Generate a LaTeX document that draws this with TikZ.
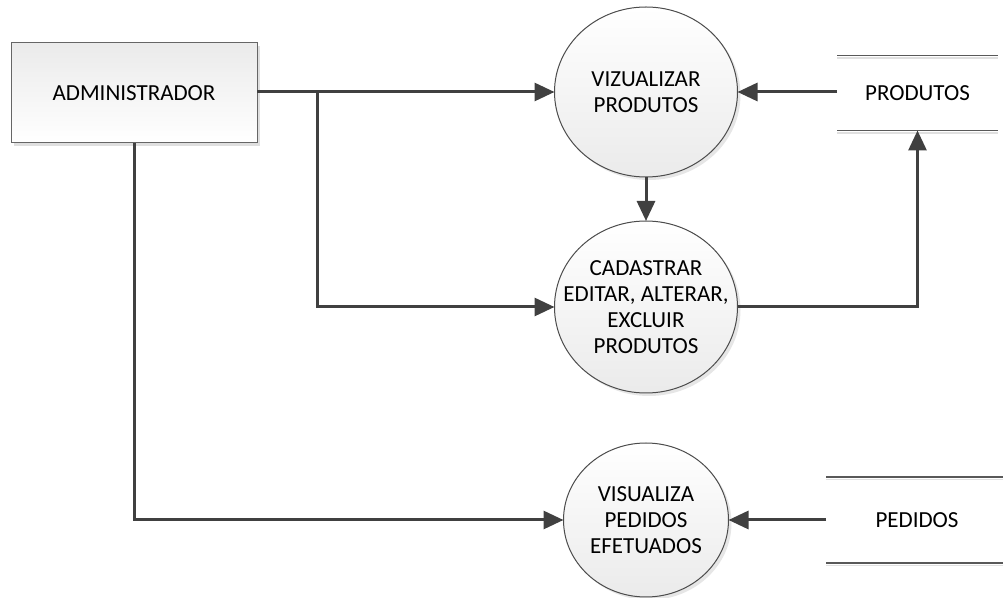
\documentclass[tikz,border=0pt]{standalone}
\usepackage{fontspec}
\setmainfont{Carlito}
\usetikzlibrary{shapes.geometric,arrows.meta,shadows}
\begin{document}
\begin{tikzpicture}[x=0.5pt,y=-0.5pt,
    every node/.style={font=\fontsize{11.5}{13}\selectfont,align=center,inner sep=0pt,outer sep=0pt},
    entity/.style={draw=black!60,line width=0.5pt,rectangle,top color=black!8,bottom color=white,
        drop shadow={shadow xshift=1.5pt,shadow yshift=-1.5pt,opacity=0.25}},
    process/.style={draw=black!70,line width=0.5pt,ellipse,top color=white,bottom color=black!8,
        drop shadow={shadow xshift=1.5pt,shadow yshift=-1.5pt,opacity=0.2}},
    store/.style={rectangle},
    flow/.style={draw=black!75,line width=1.5pt,-{Triangle[length=10pt,width=9pt]}}]
  \useasboundingbox (0,0) rectangle (1003,598);
  %entidade externa
  \node[entity,minimum width=123pt,minimum height=50pt] (admin) at (134,93) {ADMINISTRADOR};
  %processos
  \node[process,minimum width=91.5pt,minimum height=85pt] (vizprod) at (646,92) {};
  \node[process,minimum width=91.5pt,minimum height=86pt] (cadprod) at (646,307) {};
  \node[process,minimum width=82.5pt,minimum height=77pt] (vizped) at (646,520) {};
  \node (vizprodtxt) at (vizprod) {VIZUALIZAR\\PRODUTOS};
  \node (cadprodtxt) at (cadprod) {CADASTRAR\\EDITAR, ALTERAR,\\EXCLUIR\\PRODUTOS};
  \node (vizpedtxt) at (vizped) {VISUALIZA\\PEDIDOS\\EFETUADOS};
  %depositos de dados
  \node[store,minimum width=80.5pt,minimum height=37.5pt] (produtos) at (917.5,93) {PRODUTOS};
  \node[store,minimum width=91pt,minimum height=43pt] (pedidos) at (917,520) {PEDIDOS};
  \foreach \s in {produtos,pedidos} {
    \draw[black!65,line width=0.6pt] (\s.north west) -- (\s.north east);
    \draw[black!65,line width=0.6pt] (\s.south west) -- (\s.south east);
    \draw[black!12,line width=0.8pt] ([yshift=-1.2pt]\s.north west) -- ([yshift=-1.2pt]\s.north east);
    \draw[black!12,line width=0.8pt] ([yshift=-1.2pt]\s.south west) -- ([yshift=-1.2pt]\s.south east);
  }
  %fluxos
  \coordinate (branch) at (317,92);
  \draw[flow] (admin.east |- vizprod.west) -- (vizprod.west);
  \draw[flow] (branch) |- (cadprod.west);
  \draw[flow] (admin.south) |- (vizped.west);
  \draw[flow] (produtos.west |- vizprod.east) -- (vizprod.east);
  \draw[flow] (vizprod.south) -- (cadprod.north);
  \draw[flow] (cadprod.east) -| (produtos.south);
  \draw[flow] (pedidos.west) -- (vizped.east);
\end{tikzpicture}
\end{document}
